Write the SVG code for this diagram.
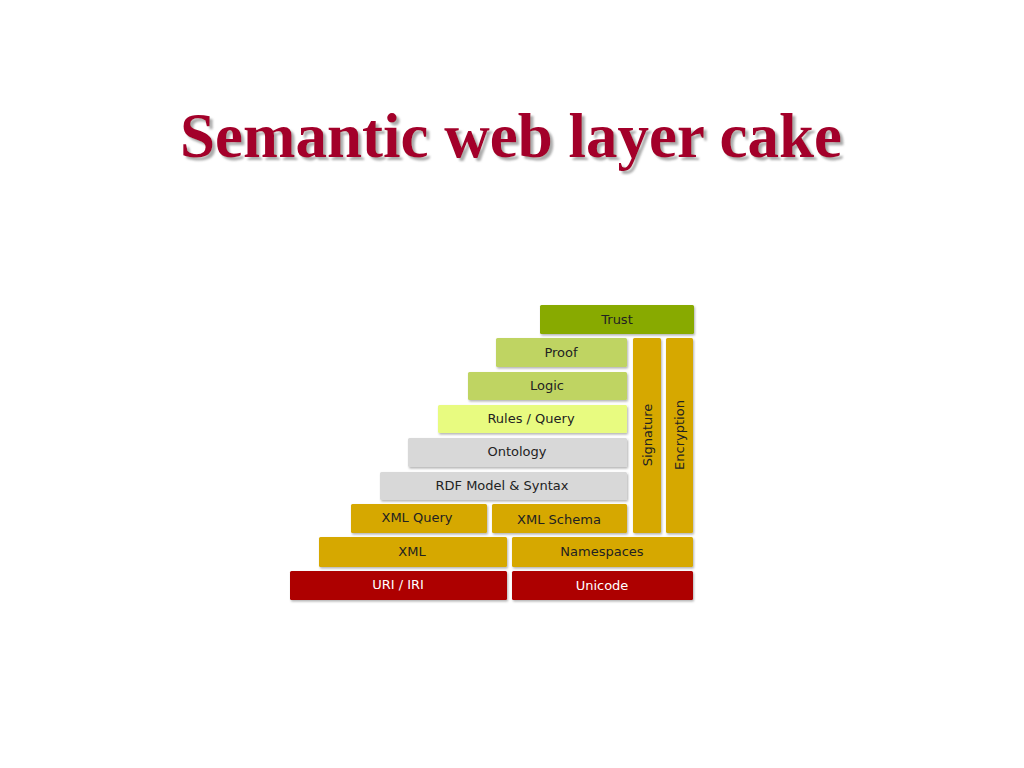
<svg xmlns="http://www.w3.org/2000/svg" width="1024" height="768" viewBox="0 0 1024 768">
<defs>
<filter id="sh" x="-10%" y="-10%" width="130%" height="150%">
<feDropShadow dx="1" dy="1.5" stdDeviation="0.8" flood-color="#000" flood-opacity="0.3"/>
</filter>
<filter id="tsh" x="-5%" y="-20%" width="110%" height="150%">
<feDropShadow dx="3" dy="3" stdDeviation="0.8" flood-color="#888" flood-opacity="0.7"/>
</filter>
<style>
.l{font-family:"DejaVu Sans",Verdana,sans-serif;font-size:13px;fill:#222;text-anchor:middle;dominant-baseline:central}
.w{fill:#fff}
.b{filter:url(#sh)}
.red{fill:#ad0000}
.gold{fill:#d6a800}
.gray{fill:#d8d8d8}
.lime{fill:#e8fb80}
.lg{fill:#bfd462}
.dg{fill:#88aa00}
.title{font-family:"Liberation Serif","Times New Roman",serif;font-weight:bold;font-size:63px;text-anchor:middle;fill:#a3002a;filter:url(#tsh)}
</style>
</defs>
<rect width="1024" height="768" fill="#fff"/>
<text class="title" x="511" y="157">Semantic web layer cake</text>
<g id="trust"><rect class="b dg" x="540" y="305" width="154" height="29" rx="1.5"/><text class="l" x="617" y="319">Trust</text></g>
<g id="proof"><rect class="b lg" x="496" y="338" width="131" height="29" rx="1.5"/><text class="l" x="561" y="352">Proof</text></g>
<g id="logic"><rect class="b lg" x="468" y="372" width="159" height="28" rx="1.5"/><text class="l" x="547" y="385">Logic</text></g>
<g id="rules"><rect class="b lime" x="438" y="405" width="189" height="28" rx="1.5"/><text class="l" x="531" y="418">Rules / Query</text></g>
<g id="ontology"><rect class="b gray" x="408" y="438" width="219" height="29" rx="1.5"/><text class="l" x="517" y="451">Ontology</text></g>
<g id="rdf"><rect class="b gray" x="380" y="472" width="247" height="28" rx="1.5"/><text class="l" x="502" y="485">RDF Model &amp; Syntax</text></g>
<g id="xmlquery"><rect class="b gold" x="351" y="504" width="136" height="29" rx="1.5"/><text class="l" x="417" y="517">XML Query</text></g>
<g id="xmlschema"><rect class="b gold" x="492" y="504" width="135" height="29" rx="1.5"/><text class="l" x="559" y="519">XML Schema</text></g>
<g id="xml"><rect class="b gold" x="319" y="537" width="188" height="30" rx="1.5"/><text class="l" x="412" y="551">XML</text></g>
<g id="namespaces"><rect class="b gold" x="512" y="537" width="181" height="30" rx="1.5"/><text class="l" x="602" y="551">Namespaces</text></g>
<g id="uri"><rect class="b red" x="290" y="571" width="217" height="29" rx="1.5"/><text class="l w" x="398" y="584">URI / IRI</text></g>
<g id="unicode"><rect class="b red" x="512" y="571" width="181" height="29" rx="1.5"/><text class="l w" x="602" y="585">Unicode</text></g>
<g id="signature"><rect class="b gold" x="633" y="338" width="28" height="195" rx="1.5"/><text class="l" transform="translate(647,435) rotate(-90)">Signature</text></g>
<g id="encryption"><rect class="b gold" x="666" y="338" width="27" height="195" rx="1.5"/><text class="l" transform="translate(679,435) rotate(-90)">Encryption</text></g>
<g id="connectors"/>
</svg>
